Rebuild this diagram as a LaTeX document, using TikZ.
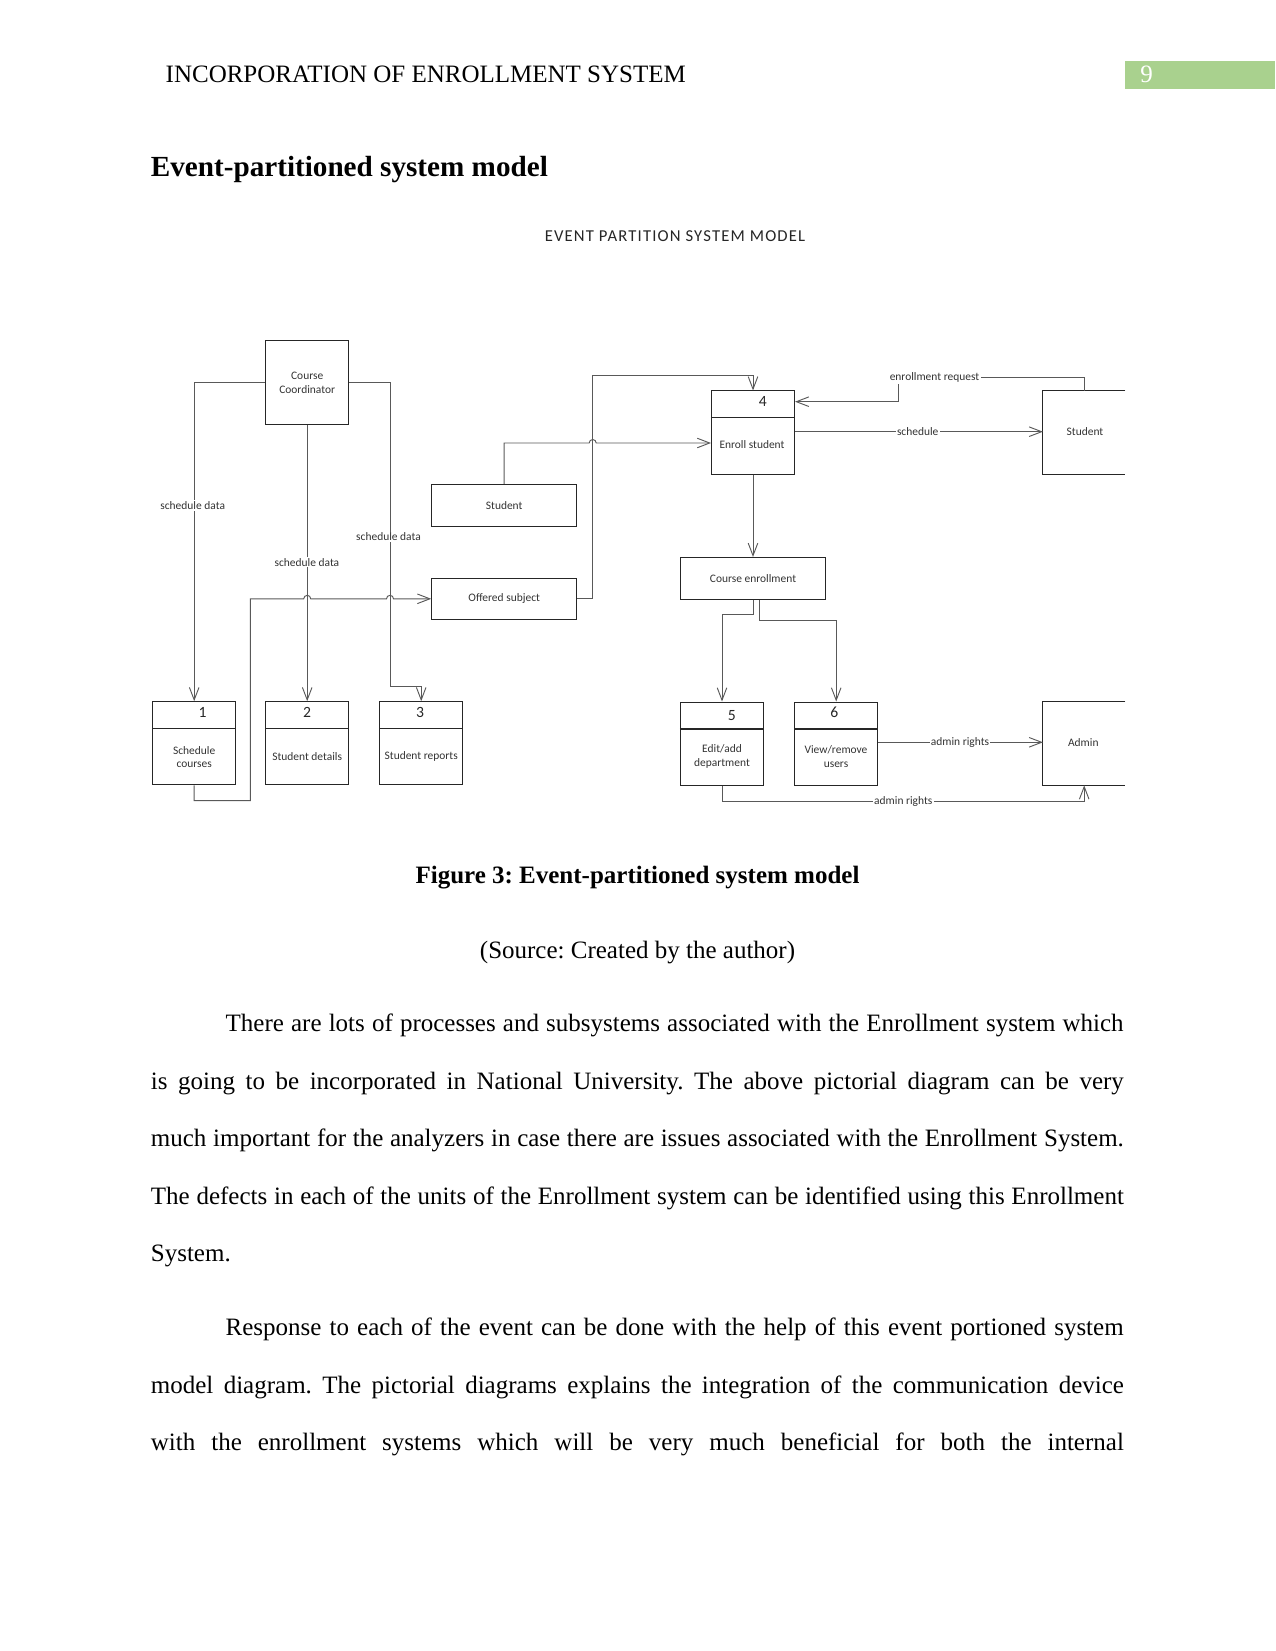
\documentclass[tikz,border=0pt]{standalone}
\usepackage{fontspec}
\setmainfont{Liberation Serif}
\newfontfamily\diagfont{Carlito}
\usetikzlibrary{arrows.meta}
\definecolor{pagegreen}{HTML}{A9D18E}
\frenchspacing
\begin{document}
\begin{tikzpicture}[x=0.48pt,y=-0.48pt,
  ln/.style={line width=0.45pt, draw=black!65},
  arr/.style={ln, -{Straight Barb[length=6pt,width=4.6pt]}},
  box/.style={draw=black!85, line width=0.5pt, inner sep=0pt},
  dtxt/.style={font=\diagfont\fontsize{5.5}{6.5}\selectfont, text=black!80, align=center, inner sep=0pt},
  ent/.style={box, dtxt, minimum width=69.6pt, minimum height=20pt},
  proc/.style={box, minimum width=39.84pt, minimum height=39.9pt},
  num/.style={font=\diagfont\fontsize{7.5}{9}\selectfont, text=black!85, inner sep=0pt},
  lab/.style={dtxt, fill=white, inner sep=0.6pt},
  body/.style={font=\fontsize{12}{14}\selectfont, inner sep=0pt, anchor=base west},
]
\useasboundingbox (0,0) rectangle (1275,1651);

% ---------- page header ----------
\node[body] (hdr) at (165.3,82.5) {INCORPORATION OF ENROLLMENT SYSTEM};
\fill[pagegreen] (1125,60.7) rectangle (1275,89);
\node[body, text=white] (pgno) at (1140,82.3) {9};
\node[body, font=\fontsize{14}{16}\selectfont\bfseries] (head) at (150.5,177) {Event-partitioned system model};

% ---------- diagram ----------
\node[font=\diagfont\fontsize{8}{9.6}\selectfont\addfontfeatures{LetterSpace=7}, text=black!85, inner sep=0pt] (dtitle) at (675,236) {EVENT PARTITION SYSTEM MODEL};

% entities
\node[box, dtxt, minimum width=40pt, minimum height=40pt] (cc) at (307.2,382.6) {Course\\Coordinator};
\node[ent] (stu) at (504.2,505.2) {Student};
\node[ent, minimum height=19.7pt] (off) at (504.2,598.8) {Offered subject};
\node[ent] (ce) at (753,578.3) {Course enrollment};
\node[dtxt, minimum width=39.2pt, minimum height=39.84pt] (stuR) at (1084.2,432.5) {};
\node[dtxt] (stuRt) at (1085,431.7) {Student};
\draw[box] (stuR.north east) -- (stuR.north west) -- (stuR.south west) -- (stuR.south east);
\node[dtxt, minimum width=39.2pt, minimum height=39.7pt] (adm) at (1084.2,743.6) {};
\node[dtxt] (admt) at (1083.3,742.3) {Admin};
\draw[box] (adm.north east) -- (adm.north west) -- (adm.south west) -- (adm.south east);

% processes
\node[proc] (b1) at (194.2,743.3) {};
\node[proc] (b2) at (307.2,743.3) {};
\node[proc] (b3) at (421.2,743.3) {};
\node[proc] (b4) at (753,432.5) {};
\node[proc] (b5) at (722,743.6) {};
\node[proc] (b6) at (836.2,743.6) {};
\draw[box] (b1.west |- 0,728.3) -- (b1.east |- 0,728.3);
\draw[box] (b2.west |- 0,728.3) -- (b2.east |- 0,728.3);
\draw[box] (b3.west |- 0,728.3) -- (b3.east |- 0,728.3);
\draw[box] (b4.west |- 0,417.7) -- (b4.east |- 0,417.7);
\draw[box] (b5.west |- 0,729) -- (b5.east |- 0,729);
\draw[box] (b6.west |- 0,729) -- (b6.east |- 0,729);
\node[num] (n1) at (202.7,712.7) {1};
\node[num] (n2) at (307.2,712.7) {2};
\node[num] (n3) at (420,712.7) {3};
\node[num] (n4) at (762.7,401.7) {4};
\node[num] (n5) at (731.7,715.7) {5};
\node[num] (n6) at (834.3,712.7) {6};
\node[dtxt] (t1) at (194.2,757) {Schedule\\courses};
\node[dtxt] (t2) at (307.2,756.7) {Student details};
\node[dtxt] (t3) at (421.2,756.7) {Student reports};
\node[dtxt] (t4) at (752,444.5) {Enroll student};
\node[dtxt] (t5) at (722,756.7) {Edit/add\\department};
\node[dtxt] (t6) at (836,756.7) {View/remove\\users};

% connectors
\draw[arr] (cc.west) -| (b1.north);
\draw[arr] (cc.south) -- (b2.north);
\draw[arr] (cc.east) -| (390,686.7) -| (b3.north);
\node[lab] (sd1) at (192.7,505.3) {schedule data};
\node[lab] (sd2) at (306.9,562.2) {schedule data};
\node[lab] (sd3) at (388.5,537) {schedule data};

\draw[arr] (b1.south) -- (194.2,800.7) -| (250.3,598.8) -- (303.7,598.8)
  arc[start angle=180,end angle=360,radius=3.5] -- (386.5,598.8)
  arc[start angle=180,end angle=360,radius=3.5] -- (off.west);
\draw[arr] (off.east) -| (592.7,375.7) -| (b4.north);
\draw[arr] (stu.north) |- (589.2,443) arc[start angle=180,end angle=360,radius=3.5] -- (b4.west |- 0,443);

\draw[arr] (stuR.north) |- (898.3,377.7) -- (898.3,401.7) -- (b4.east |- 0,401.7);
\node[lab] (er) at (934.5,377.7) {enrollment request};
\draw[arr] (b4.east |- 0,431.7) -- (stuR.west |- 0,431.7);
\node[lab] (sch) at (917.7,431.7) {schedule};

\draw[arr] (b4.south) -- (ce.north);
\draw[arr] (ce.south) -- (753,614) -| (b5.north);
\draw[arr] (ce.south -| 759,0) -- (759,620) -| (b6.north);
\draw[arr] (b6.east |- 0,742.3) -- (adm.west |- 0,742.3);
\node[lab] (ar1) at (960,742.3) {admin rights};
\draw[arr] (b5.south) -- ++(0,16) -| (adm.south);
\node[lab] (ar2) at (903.3,801) {admin rights};

% ---------- caption ----------
\node[font=\fontsize{12}{14}\selectfont\bfseries, inner sep=0pt, anchor=base] (cap) at (637.5,883.3) {Figure 3: Event-partitioned system model};
\node[font=\fontsize{12}{14}\selectfont, inner sep=0pt, anchor=base] (src) at (637.5,958.3) {(Source: Created by the author)};

% ---------- body ----------
\node[body] (p1a) at (225.3,1031.7) {\makebox[431pt][s]{There are lots of processes and subsystems associated with the Enrollment system which}};
\node[body] (p1b) at (150.5,1089.2) {\makebox[467pt][s]{is going to be incorporated in National University. The above pictorial diagram can be very}};
\node[body] (p1c) at (150.5,1146.7) {\makebox[467pt][s]{much important for the analyzers in case there are issues associated with the Enrollment System.}};
\node[body] (p1d) at (150.5,1204.2) {\makebox[467pt][s]{The defects in each of the units of the Enrollment system can be identified using this Enrollment}};
\node[body] (p1e) at (150.5,1261.7) {System.};
\node[body] (p2a) at (225.3,1335.7) {\makebox[431pt][s]{Response to each of the event can be done with the help of this event portioned system}};
\node[body] (p2b) at (150.5,1393.2) {\makebox[467pt][s]{model diagram. The pictorial diagrams explains the integration of the communication device}};
\node[body] (p2c) at (150.5,1450.7) {\makebox[467pt][s]{with the enrollment systems which will be very much beneficial for both the internal}};
\end{tikzpicture}
\end{document}
